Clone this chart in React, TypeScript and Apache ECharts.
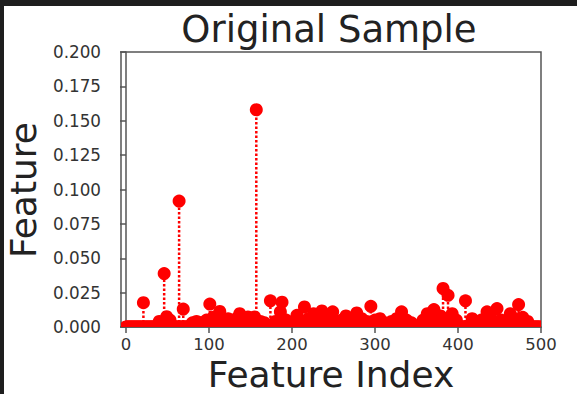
import React, { useEffect, useRef } from 'react';
import * as echarts from 'echarts';

// ---- data ----
const nFeatures = 500; // feature indices 0..499, all others are 0
const activeIndices = [
  21, 40, 46, 49, 53, 64, 69, 80, 85, 90, 97, 101, 105, 109, 113, 118, 123, 128, 133, 137, 142, 147, 151, 155, 157, 162, 167,
  174, 180, 186, 188, 193, 198, 206, 210, 215, 220, 226, 231, 236, 242, 249, 255, 260, 265, 270, 278, 284, 290, 295, 300,
  306, 312, 320, 326, 332, 338, 344, 358, 363, 366, 371, 376, 379, 382, 385, 388, 393, 398, 409, 417, 422, 428, 435, 440,
  447, 452, 458, 463, 468, 473, 478, 484,
];
const activeValues = [
  0.0177, 0.004, 0.0389, 0.0075, 0.005, 0.0916, 0.013, 0.003, 0.004, 0.003, 0.005, 0.0167, 0.007, 0.006, 0.0113, 0.005,
  0.006, 0.004, 0.006, 0.0097, 0.005, 0.0073, 0.005, 0.0073, 0.158, 0.004, 0.003,
  0.019, 0.004, 0.011, 0.018, 0.005, 0.003, 0.0085, 0.005, 0.0146, 0.006, 0.0097, 0.005, 0.0117, 0.006, 0.011, 0.004,
  0.005, 0.008, 0.005, 0.0102, 0.006, 0.004, 0.015, 0.005,
  0.006, 0.003, 0.004, 0.006, 0.011, 0.005, 0.003, 0.005, 0.0097, 0.006, 0.0127, 0.006, 0.008, 0.028, 0.006, 0.023,
  0.0097, 0.005, 0.019, 0.006, 0.004, 0.005, 0.011, 0.006,
  0.0134, 0.005, 0.004, 0.0097, 0.006, 0.0163, 0.007, 0.004,
];
const xTicks = [0, 100, 200, 300, 400, 500];
const yMin = 0;
const yMax = 0.2;
const yStep = 0.025;
const titleText = 'Original Sample';
const xLabel = 'Feature Index';
const yLabel = 'Feature';

const FONT = 'DejaVu Sans';
const RED = '#ff0000';
const SPINE = '#555555';

export default function App() {
  const ref = useRef<HTMLDivElement>(null);

  useEffect(() => {
    if (!ref.current) return;
    const chart = echarts.init(ref.current, undefined, { renderer: 'svg' });

    const valueAt = new Map<number, number>();
    activeIndices.forEach((idx, k) => valueAt.set(idx, activeValues[k]));
    const zeroData: number[][] = [];
    for (let i = 0; i < nFeatures; i++) {
      if (!valueAt.has(i)) zeroData.push([i, 0]);
    }
    const activeData = activeIndices.map((idx, k) => [idx, activeValues[k]]);
    const data = zeroData.concat(activeData);

    const axisLineStyle = { color: SPINE, width: 1.5 };

    chart.setOption({
      animation: false,
      backgroundColor: '#ffffff',
      grid: {
        left: 121,
        top: 52,
        width: 420,
        height: 275,
        show: true,
        borderColor: SPINE,
        borderWidth: 1.5,
        backgroundColor: 'transparent',
      },
      xAxis: {
        type: 'value',
        min: -6,
        max: 500,
        axisLine: { show: true, onZero: false, lineStyle: axisLineStyle },
        axisTick: { show: true, length: 6, lineStyle: axisLineStyle, customValues: xTicks },
        axisLabel: {
          customValues: xTicks,
          margin: 9,
          fontFamily: FONT,
          fontSize: 16.5,
          lineHeight: 17,
          color: '#333',
        },
        splitLine: { show: false },
      },
      yAxis: {
        type: 'value',
        min: yMin,
        max: yMax,
        interval: yStep,
        axisLine: { show: true, lineStyle: axisLineStyle },
        axisTick: { show: true, length: 6, lineStyle: axisLineStyle },
        axisLabel: {
          margin: 20,
          fontFamily: FONT,
          fontSize: 16.8,
          color: '#333',
          formatter: (v: number) => v.toFixed(3),
        },
        splitLine: { show: false },
      },
      series: [
        {
          type: 'custom',
          clip: true,
          data,
          encode: { x: 0, y: 1 },
          renderItem: (params: any, api: any) => {
            const x = api.value(0);
            const v = api.value(1);
            const top = api.coord([x, v]);
            const base = api.coord([x, 0]);
            const children: any[] = [];
            if (v > 0) {
              children.push({
                type: 'line',
                shape: { x1: top[0], y1: base[1], x2: top[0], y2: top[1] },
                style: { stroke: RED, lineWidth: 2.5, lineDash: [2.5, 2] },
              });
            }
            children.push({
              type: 'circle',
              shape: { cx: top[0], cy: top[1], r: 6.5 },
              style: { fill: RED },
            });
            return { type: 'group', children };
          },
        },
      ],
      graphic: [
        { type: 'rect', shape: { x: 0, y: 0, width: 577, height: 6 }, style: { fill: '#1e1e1e' }, z: 100 },
        { type: 'rect', shape: { x: 0, y: 0, width: 4, height: 394 }, style: { fill: '#1e1e1e' }, z: 100 },
        {
          type: 'text',
          x: 329,
          y: 29,
          style: {
            text: titleText,
            fontFamily: FONT,
            fontSize: 37,
            fill: '#222',
            textAlign: 'center',
            textVerticalAlign: 'middle',
          },
        },
        {
          type: 'text',
          x: 331,
          y: 374,
          style: {
            text: xLabel,
            fontFamily: FONT,
            fontSize: 36,
            lineHeight: 36,
            fill: '#222',
            textAlign: 'center',
            textVerticalAlign: 'middle',
          },
        },
        {
          type: 'text',
          x: 23,
          y: 190,
          rotation: Math.PI / 2,
          style: {
            text: yLabel,
            fontFamily: FONT,
            fontSize: 36,
            fill: '#222',
            textAlign: 'center',
            textVerticalAlign: 'middle',
          },
        },
      ],
    });

    return () => chart.dispose();
  }, []);

  return (
    <div
      ref={ref}
      style={{ position: 'fixed', left: 0, top: 0, width: 577, height: 394 }}
    />
  );
}
